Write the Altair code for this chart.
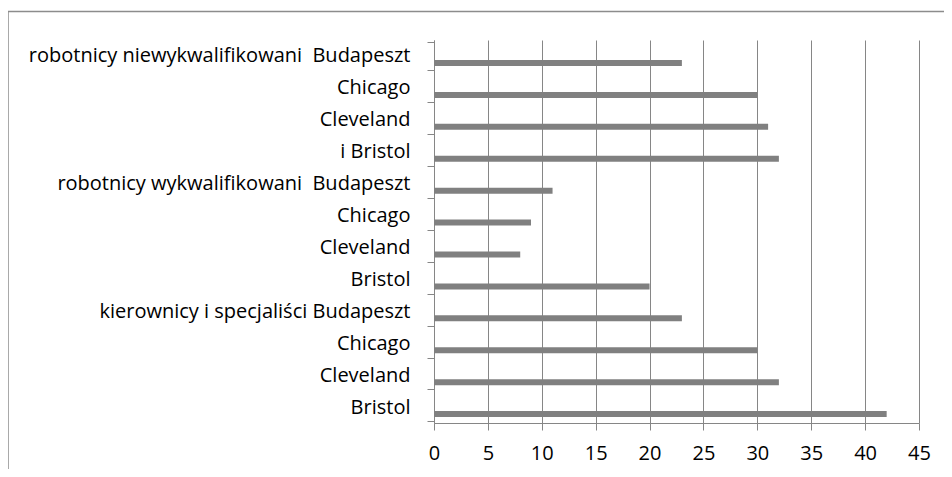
import json
import altair as alt
import pandas as pd

labels = [
    "robotnicy niewykwalifikowani\u00a0 Budapeszt", "Chicago", "Cleveland", "i Bristol",
    "robotnicy wykwalifikowani\u00a0 Budapeszt", "Chicago", "Cleveland", "Bristol",
    "kierownicy i specjaliści Budapeszt", "Chicago", "Cleveland", "Bristol",
]
values = [23, 30, 31, 32, 11, 9, 8, 20, 23, 30, 32, 42]
x_ticks = [0, 5, 10, 15, 20, 25, 30, 35, 40, 45]

df = pd.DataFrame({"idx": list(range(len(labels))), "label": labels, "value": values})
label_expr = "[" + ",".join(json.dumps(l, ensure_ascii=False) for l in labels) + "][toNumber(datum.value)]"

GRID = "#868686"
FONT = "Open Sans"

bars = alt.Chart(df).mark_bar(size=6, yOffset=7, color="#808080").encode(
    x=alt.X("value:Q", scale=alt.Scale(domain=[0, 45], nice=False),
            axis=alt.Axis(values=x_ticks, title=None, grid=True, tickSize=7,
                          labelPadding=13, labelFlush=False, domainColor=GRID,
                          tickColor=GRID, gridColor=GRID, labelFontSize=20,
                          labelFont=FONT, labelColor="black")),
    y=alt.Y("idx:O", sort=None,
            axis=alt.Axis(title=None, labelExpr=label_expr, tickBand="extent",
                          tickSize=7, labelPadding=17, domainColor=GRID,
                          tickColor=GRID, labelFontSize=20, labelFont=FONT,
                          labelLimit=0, labelColor="black", grid=False)),
)

frame_df = pd.DataFrame({"a": [0]})
frame_left = alt.Chart(frame_df).mark_rule(color="#8c8c8c", strokeWidth=1.5).encode(
    x=alt.value(-426), y=alt.value(-28.5), y2=alt.value(600))
frame_top = alt.Chart(frame_df).mark_rule(color="#8c8c8c", strokeWidth=1.5).encode(
    x=alt.value(-426), x2=alt.value(700), y=alt.value(-28.5))

chart = alt.layer(bars, frame_left, frame_top).properties(
    width=485, height=383,
    autosize=alt.AutoSizeParams(type="none"),
    padding={"left": 426, "top": 32, "right": 25, "bottom": 46},
).configure_view(stroke=None)

chart.save("out.html", embed_options={"renderer": "svg", "actions": False})
